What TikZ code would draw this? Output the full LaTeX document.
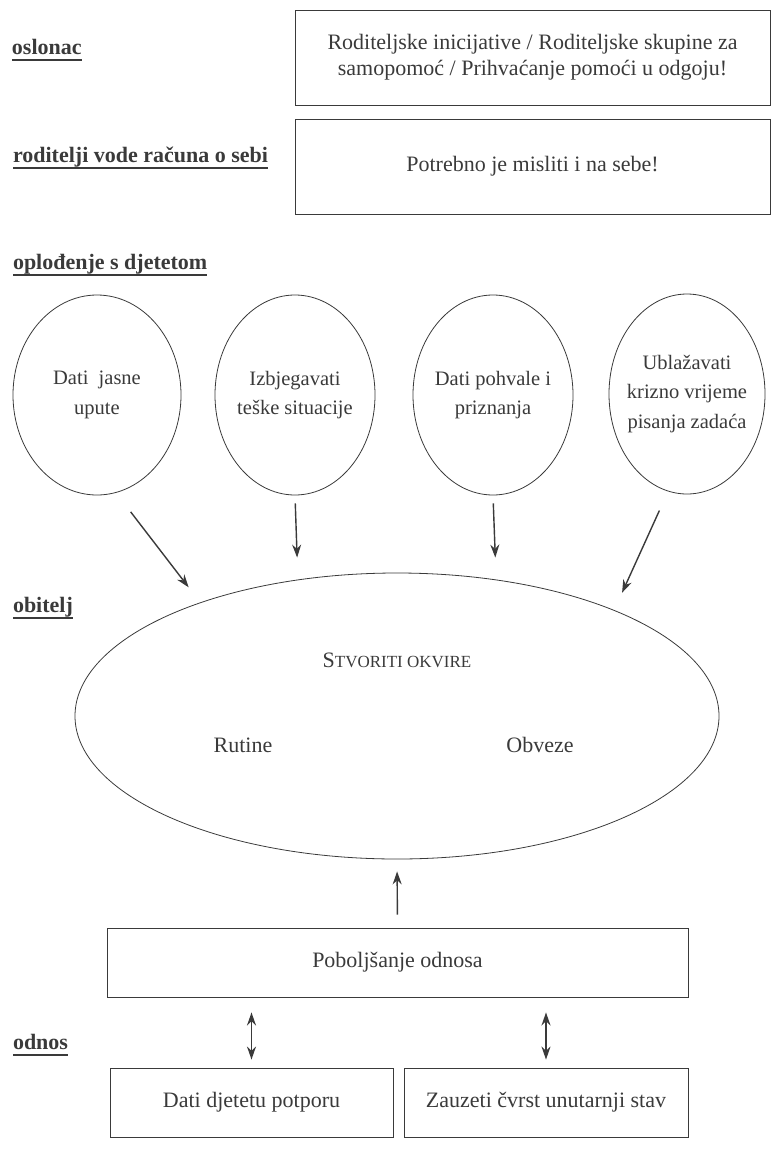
\documentclass[tikz,border=0pt]{standalone}
\usepackage{fontspec}
\setmainfont{Liberation Serif}
\usetikzlibrary{shapes.geometric, positioning, arrows.meta}
\definecolor{ink}{HTML}{3A3A3A}
\tikzset{
    >={Stealth[length=13pt, width=9pt]}, % bold arrow heads
    every node/.style={text=ink, font=\fontsize{22}{26}\selectfont},
    textbox/.style={draw=ink, line width=0.9pt, rectangle, align=center, inner sep=0pt},
    bubble/.style={draw=ink, line width=0.8pt, ellipse, align=center, inner xsep=-18pt, inner ysep=0pt,
        minimum width=160pt, minimum height=200pt, font=\fontsize{20.5}{29.5}\selectfont},
    heading/.style={anchor=base west, inner sep=0pt, outer sep=0pt, text depth=6pt,
        font=\bfseries\fontsize{22}{26}\selectfont},
    link/.style={draw=ink, line width=1.4pt, ->},
}
\begin{document}
\begin{tikzpicture}[x=1pt, y=-1pt]
    \useasboundingbox (0,0) rectangle (776,1151);
    % headings on the left
    \node[heading] (oslonac) at (12,54) {oslonac};
    \node[heading] (roditelji) at (13,162) {roditelji vode računa o sebi};
    \node[heading] (oplodenje) at (13,269) {oplođenje s djetetom};
    \node[heading] (obitelj) at (13,612) {obitelj};
    \node[heading] (odnos) at (13,1049) {odnos};
    \foreach \h in {oslonac, roditelji, oplodenje, obitelj, odnos}
        \draw[ink, line width=1.2pt] (\h.south west) -- (\h.south east);

    % top boxes
    \node[textbox, minimum width=475pt, minimum height=95pt] (pomoc) at (532.5,57.5)
        {Roditeljske inicijative / Roditeljske skupine za\\samopomoć / Prihvaćanje pomoći u odgoju!};
    \node[textbox, minimum width=475pt, minimum height=95pt] (sebe) at (532.5,166.5)
        {Potrebno je misliti i na sebe!};

    % four bubbles
    \node[bubble, minimum width=168pt] (upute) at (97,395) {Dati\ \ jasne\\upute};
    \node[bubble] (situacije) at (295,395) {Izbjegavati\\teške situacije};
    \node[bubble] (pohvale) at (493,395) {Dati pohvale i\\priznanja};
    \node[bubble, minimum width=156pt] (zadace) at (687,394) {Ublažavati\\krizno vrijeme\\pisanja zadaća};

    % family ellipse
    \node[draw=ink, line width=0.8pt, ellipse, minimum width=644pt, minimum height=286pt] (okviri) at (397,716) {};
    \node (stvoriti) at (397,660) {S{\fontsize{17}{20}\selectfont TVORITI OKVIRE}};
    \node (rutine) at (243,745) {Rutine};
    \node (obveze) at (540,745) {Obveze};

    % relation boxes
    \node[textbox, minimum width=581pt, minimum height=69pt] (odnosi) at (397.5,962.5) {Poboljšanje odnosa};
    \node[textbox, minimum width=283pt, minimum height=69pt] (potpora) at (251.5,1102.5) {Dati djetetu potporu};
    \node[textbox, minimum width=284pt, minimum height=69pt] (stav) at (546,1102.5) {Zauzeti čvrst unutarnji stav};

    % arrows
    \draw[link, shorten <=24pt, shorten >=19pt] (upute.-79) -- (okviri.150.7);
    \draw[link, shorten <=8pt, shorten >=22pt] (situacije.south) -- (okviri.126.3);
    \draw[link, shorten <=8pt, shorten >=22pt] (pohvale.south) -- (okviri.54);
    \draw[link, shorten <=21pt, shorten >=19pt] (zadace.-101.6) -- (okviri.26.4);
    \draw[link, shorten <=13pt, shorten >=12pt] (odnosi.north) -- (okviri.south);
    \draw[link, <->, shorten <=8pt, shorten >=15pt] (potpora.north) -- (potpora.north |- odnosi.south);
    \draw[link, <->, shorten <=8pt, shorten >=15pt] (stav.north) -- (stav.north |- odnosi.south);
\end{tikzpicture}
\end{document}
